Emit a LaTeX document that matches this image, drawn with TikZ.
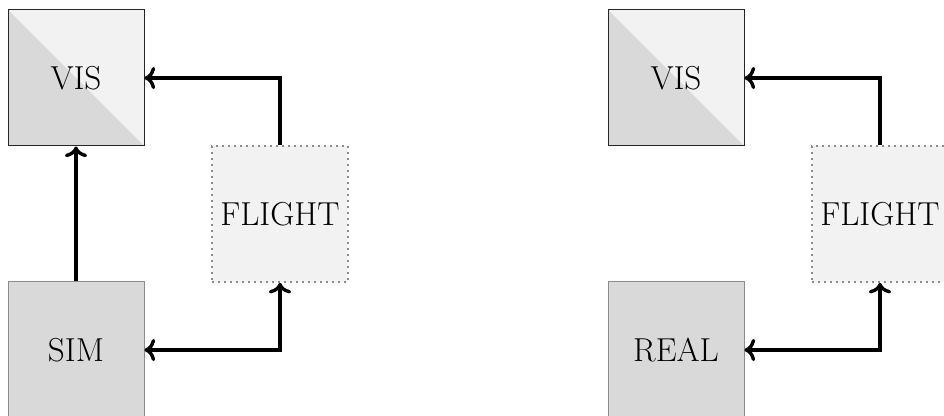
\documentclass[tikz,border=0pt]{standalone}
\usepackage{fontspec}
\usetikzlibrary{arrows.meta}
\definecolor{boxdark}{HTML}{D9D9D9}
\definecolor{boxlight}{HTML}{F2F2F2}
\definecolor{edgegray}{HTML}{8C8C8C}
\tikzset{
  base/.style={minimum width=68pt, minimum height=68pt, inner sep=0pt,
    font=\fontsize{16.6}{20}\selectfont},
  visbox/.style={base, draw=black!85, line width=0.5pt,
    path picture={
      \fill[boxlight] (path picture bounding box.north west)
        rectangle (path picture bounding box.south east);
      \fill[boxdark] (path picture bounding box.north west)
        -- (path picture bounding box.south west)
        -- (path picture bounding box.south east) -- cycle;
    }},
  srcbox/.style={base, fill=boxdark, draw=edgegray, line width=0.5pt},
  flightbox/.style={base, fill=boxlight, draw=edgegray, line width=0.8pt,
    dash pattern=on 0.8pt off 2.2pt},
  conn/.style={line width=1.7pt, ->},
  biconn/.style={line width=1.7pt, <->}
}
\begin{document}
\begin{tikzpicture}[x=0.5pt, y=-0.5pt]
  \useasboundingbox (0,0) rectangle (944,416);
  \clip (0,0) rectangle (944,416);

  % simulation setup
  \node[visbox]    (vis)    at (76,78)   {VIS};
  \node[srcbox]    (sim)    at (76,350)  {SIM};
  \node[flightbox] (flight) at (280,214) {FLIGHT};
  \draw[conn]   (flight.north) |- (vis.east);
  \draw[conn]   (sim.north) -- (vis.south);
  \draw[biconn] (sim.east) -| (flight.south);

  % real-world setup
  \node[visbox]    (vis2)    at (676,78)   {VIS};
  \node[srcbox]    (real)    at (676,350)  {REAL};
  \node[flightbox] (flight2) at (880,214)  {FLIGHT};
  \draw[conn]   (flight2.north) |- (vis2.east);
  \draw[biconn] (real.east) -| (flight2.south);
\end{tikzpicture}
\end{document}
